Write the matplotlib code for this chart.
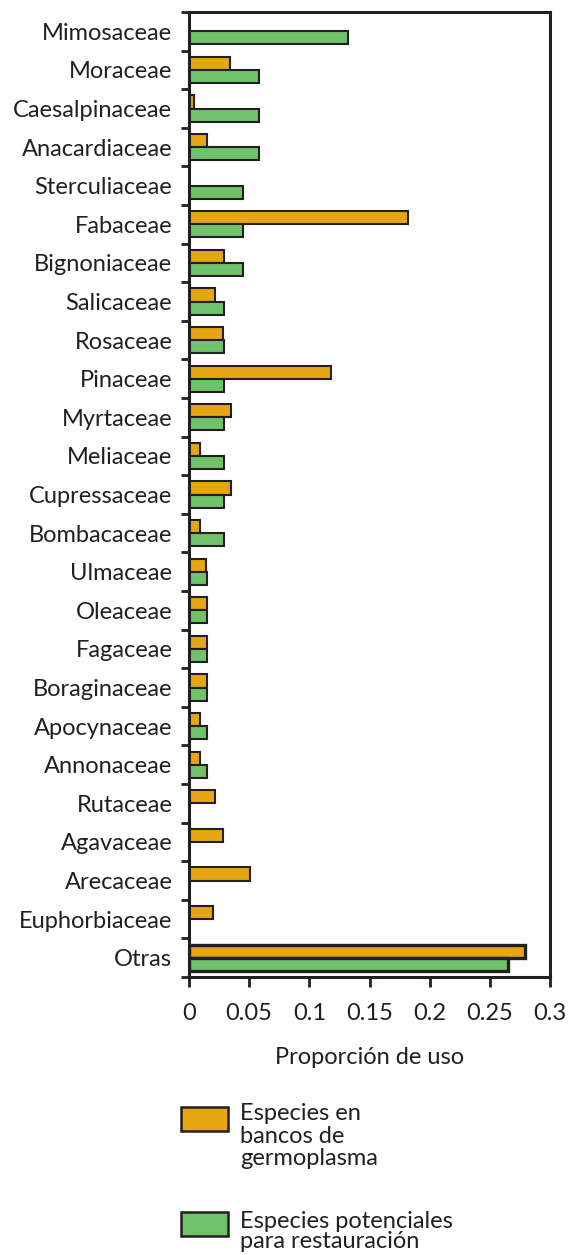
import numpy as np
import matplotlib
matplotlib.use('Agg')
import matplotlib.pyplot as plt
from matplotlib.patches import Rectangle

# datos
familias = ['Mimosaceae', 'Moraceae', 'Caesalpinaceae', 'Anacardiaceae', 'Sterculiaceae',
            'Fabaceae', 'Bignoniaceae', 'Salicaceae', 'Rosaceae', 'Pinaceae', 'Myrtaceae',
            'Meliaceae', 'Cupressaceae', 'Bombacaceae', 'Ulmaceae', 'Oleaceae', 'Fagaceae',
            'Boraginaceae', 'Apocynaceae', 'Annonaceae', 'Rutaceae', 'Agavaceae',
            'Arecaceae', 'Euphorbiaceae', 'Otras']
bancos = [0, 0.034, 0.004, 0.015, 0, 0.182, 0.029, 0.022, 0.028, 0.118, 0.035,
          0.009, 0.035, 0.009, 0.014, 0.015, 0.015, 0.015, 0.009, 0.009, 0.022,
          0.028, 0.051, 0.020, 0.279]
restauracion = [0.132, 0.058, 0.058, 0.058, 0.0446, 0.0446, 0.0446, 0.029, 0.029,
                0.029, 0.029, 0.029, 0.029, 0.029, 0.015, 0.015, 0.015, 0.015, 0.015,
                0.015, 0, 0, 0, 0, 0.2655]
xticks = [0, 0.05, 0.1, 0.15, 0.2, 0.25, 0.3]
xticklabels = ['0', '0.05', '0.1', '0.15', '0.2', '0.25', '0.3']
leyenda = ['Especies en\nbancos de\ngermoplasma', 'Especies potenciales\npara restauración']

naranja = '#E6A612'
verde = '#70C36B'
oscuro = '#231F20'

plt.rcParams['font.family'] = ['Lato', 'DejaVu Sans']

W, H = 569, 1255
fig = plt.figure(figsize=(W / 100, H / 100), dpi=100)
ax = fig.add_axes([189 / W, 1 - 977 / H, (550 - 189) / W, (977 - 12) / H])

n = len(familias)
y = np.arange(n)
h = 0.34
lw = [1.5] * (n - 1) + [2.4]
ax.barh(y - h / 2, bancos, height=h, color=naranja, edgecolor=oscuro, linewidth=lw)
ax.barh(y + h / 2, restauracion, height=h, color=verde, edgecolor=oscuro, linewidth=lw)

ax.set_ylim(n - 0.5, -0.5)
ax.set_xlim(0, 0.3)

# marcas del eje y entre categorías, etiquetas al centro
ax.set_yticks(np.arange(-0.5, n, 1.0))
ax.set_yticklabels([])
ax.set_yticks(y, minor=True)
ax.set_yticklabels(familias, minor=True, fontsize=17, color=oscuro)
ax.tick_params(axis='y', which='major', direction='out', length=6, width=2, color=oscuro)
ax.tick_params(axis='y', which='minor', length=0, pad=12)

ax.set_xticks(xticks)
ax.set_xticklabels(xticklabels, fontsize=17, color=oscuro)
ax.tick_params(axis='x', direction='out', length=7, width=2, color=oscuro, pad=12)
ax.set_xlabel('Proporción de uso', fontsize=17, color=oscuro, labelpad=16)

for s in ax.spines.values():
    s.set_linewidth(2.2)
    s.set_color(oscuro)

# leyenda manual
for (top, col, txt, ls, dy) in [(1107, naranja, leyenda[0], 1.1, 4), (1212, verde, leyenda[1], 0.93, 1)]:
    fig.patches.append(Rectangle((181 / W, 1 - (top + 24) / H), 47 / W, 24 / H,
                                 transform=fig.transFigure, facecolor=col,
                                 edgecolor=oscuro, linewidth=1.8))
    fig.text(240 / W, 1 - (top - dy) / H, txt, fontsize=17, color=oscuro,
             va='top', ha='left', linespacing=ls)

fig.savefig('out.png', dpi=100)
